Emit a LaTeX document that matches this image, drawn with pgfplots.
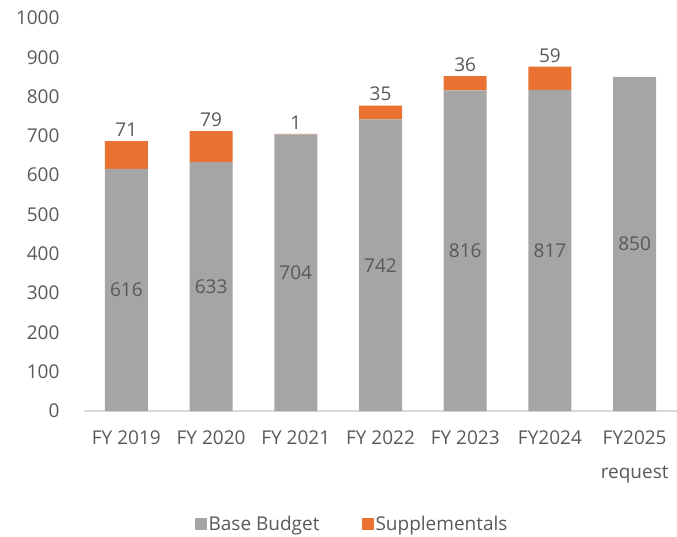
\documentclass[border=0pt]{standalone}
\usepackage{pgfplots}
\pgfplotsset{compat=1.18}
\usepackage{fontspec}
\setmainfont{Open Sans}
\definecolor{txt}{HTML}{595959}
\definecolor{basec}{HTML}{A5A5A5}
\definecolor{suppc}{HTML}{E97132}
\definecolor{axc}{HTML}{D9D9D9}
\begin{document}
\begin{tikzpicture}
\useasboundingbox (0,0) rectangle (677pt,536pt);
\begin{axis}[
  at={(84pt,125pt)}, anchor=south west,
  scale only axis, width=593pt, height=393pt,
  xmin=-0.5, xmax=6.5, ymin=0, ymax=1000,
  ybar stacked, bar width=43pt,
  xtick={0,1,2,3,4,5,6},
  xticklabels={FY 2019,FY 2020,FY 2021,FY 2022,FY 2023,FY2024,{FY2025\\request}},
  ytick={0,100,...,1000},
  axis x line*=bottom, axis y line*=left,
  x axis line style={draw=axc, line width=1.5pt},
  y axis line style={draw=none},
  major tick length=0pt,
  tick label style={font=\fontsize{19}{34}\selectfont, text=txt},
  xticklabel style={align=center, yshift=-16pt},
  yticklabel style={xshift=-21pt},
  /pgf/number format/1000 sep={},
  /pgf/number format/assume math mode=true,
  legend style={at={(0.452,-0.2875)}, anchor=center, draw=none, fill=none,
    legend columns=2, font=\fontsize{19}{23}\selectfont, text=txt,
    /tikz/every even column/.append style={column sep=40pt}},
  legend image code/.code={\fill[#1] (0pt,-6pt) rectangle (12pt,6pt);},
  visualization depends on=rawy \as \rawy,
]
\addplot[fill=basec, draw=none,
  nodes near coords={\pgfmathprintnumber{\rawy}},
  every node near coord/.style={anchor=center, font=\fontsize{19}{23}\selectfont, text=txt}]
  coordinates {(0,616) (1,633) (2,704) (3,742) (4,816) (5,817) (6,850)};
\addlegendentry{Base Budget}
\addplot[fill=suppc, draw=none,
  nodes near coords={\pgfmathprintnumber{\rawy}},
  every node near coord/.style={anchor=south, font=\fontsize{19}{23}\selectfont, text=txt,
    yshift={0.1965pt*\rawy+1pt}}]
  coordinates {(0,71) (1,79) (2,1) (3,35) (4,36) (5,59)};
\addlegendentry{Supplementals}
\end{axis}
\end{tikzpicture}
\end{document}
